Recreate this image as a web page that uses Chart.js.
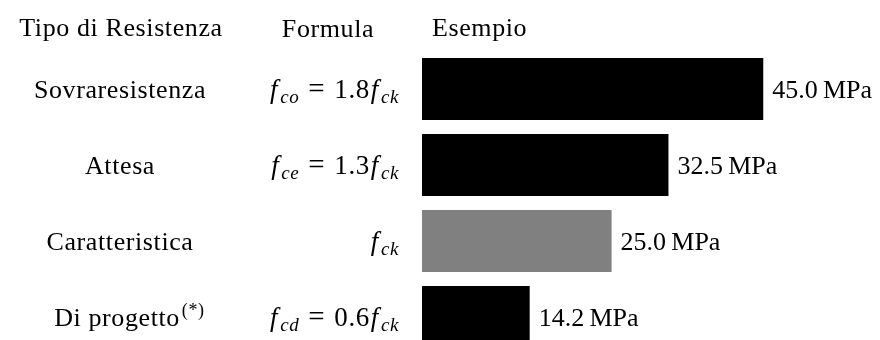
<!DOCTYPE html>
<html>
<head>
<meta charset="utf-8">
<script src="https://cdn.jsdelivr.net/npm/chart.js@4/dist/chart.umd.min.js"></script>
<style>
  html, body { margin: 0; padding: 0; background: #ffffff; overflow: hidden; }
  #wrap { width: 880px; height: 340px; overflow: hidden; }
  canvas { display: block; }
</style>
</head>
<body>
<div id="wrap"><canvas id="chart" width="880" height="380"></canvas></div>
<script>
// Resistance types, their formulas and example values (C25/30 concrete)
const categories = ['Sovraresistenza', 'Attesa', 'Caratteristica', 'Di progetto'];
const categoryNotes = ['', '', '', '(*)'];
const formulaSubscripts = ['co', 'ce', null, 'cd'];
const formulaFactors = ['1.8', '1.3', null, '0.6'];
const values = [45.0, 32.5, 25.0, 14.2];
const barColors = ['#000000', '#000000', '#808080', '#000000'];
const headers = ['Tipo di Resistenza', 'Formula', 'Esempio'];
const unit = 'MPa';

const FONT = '"Liberation Serif", "Times New Roman", serif';
const SIZE = 26;
const SUB = 18;
const MATH = 27;
const MATH_SUB = 19;

function setFont(ctx, size, italic) {
  ctx.font = (italic ? 'italic ' : '') + size + 'px ' + FONT;
}

// draw a sequence of text runs (normal / italic / subscript / superscript)
function runsWidth(ctx, runs) {
  let w = 0;
  runs.forEach(r => { setFont(ctx, r.size, r.italic); w += ctx.measureText(r.t).width + (r.gap || 0); });
  return w;
}
function drawRuns(ctx, runs, x, y) {
  runs.forEach(r => {
    setFont(ctx, r.size, r.italic);
    ctx.fillText(r.t, x, y + (r.dy || 0));
    x += ctx.measureText(r.t).width + (r.gap || 0);
  });
}
function fRuns(sub, gapAfter) {
  return [
    { t: 'f', size: MATH, italic: true, gap: 2 },
    { t: sub, size: MATH_SUB, italic: true, dy: 5, gap: gapAfter || 0 }
  ];
}

const tablePlugin = {
  id: 'tableText',
  afterDraw(chart) {
    const ctx = chart.ctx;
    const meta = chart.getDatasetMeta(0);
    ctx.save();
    ctx.fillStyle = '#000000';
    ctx.textBaseline = 'alphabetic';
    ctx.letterSpacing = '0.6px';

    // column headers
    setFont(ctx, SIZE, false);
    ctx.textAlign = 'center';
    ctx.fillText(headers[0], 121, 36);
    ctx.fillText(headers[1], 328, 37);
    ctx.textAlign = 'left';
    ctx.fillText(headers[2], 432, 36);

    meta.data.forEach((bar, i) => {
      const base = bar.y + 9;

      // type name (with optional note mark)
      setFont(ctx, SIZE, false);
      if (categoryNotes[i]) {
        const w = ctx.measureText(categories[i]).width;
        const x0 = 117 - w / 2;
        ctx.textAlign = 'left';
        ctx.fillText(categories[i], x0, base);
        setFont(ctx, SUB, false);
        ctx.fillText(categoryNotes[i], x0 + w + 2, base - 10);
      } else {
        ctx.textAlign = 'center';
        ctx.fillText(categories[i], 120, base);
      }

      // formula, right aligned
      ctx.textAlign = 'left';
      let runs;
      if (formulaSubscripts[i]) {
        runs = fRuns(formulaSubscripts[i], 9).concat([
          { t: '=', size: MATH + 2, italic: false, gap: 9 },
          { t: formulaFactors[i], size: MATH, italic: false, gap: 1 }
        ]).concat(fRuns('ck'));
      } else {
        runs = fRuns('ck');
      }
      const fw = runsWidth(ctx, runs);
      drawRuns(ctx, runs, 399 - fw, base);

      // value label next to the bar
      setFont(ctx, SIZE, false);
      ctx.letterSpacing = '0px';
      ctx.textAlign = 'left';
      ctx.fillText(values[i].toFixed(1) + '\u2009' + unit, bar.x + 9, base);
      ctx.letterSpacing = '0.6px';
    });
    ctx.restore();
  }
};

new Chart(document.getElementById('chart'), {
  type: 'bar',
  data: {
    labels: categories,
    datasets: [{
      data: values,
      backgroundColor: barColors,
      borderWidth: 0,
      barPercentage: 0.815,
      categoryPercentage: 1.0
    }]
  },
  options: {
    indexAxis: 'y',
    responsive: false,
    animation: false,
    devicePixelRatio: 1,
    layout: { padding: { top: 51, bottom: 25, left: 422, right: 3 } },
    plugins: { legend: { display: false }, tooltip: { enabled: false } },
    scales: {
      x: { display: false, min: 0, max: 60 },
      y: { display: false }
    }
  },
  plugins: [tablePlugin]
});
</script>
</body>
</html>
